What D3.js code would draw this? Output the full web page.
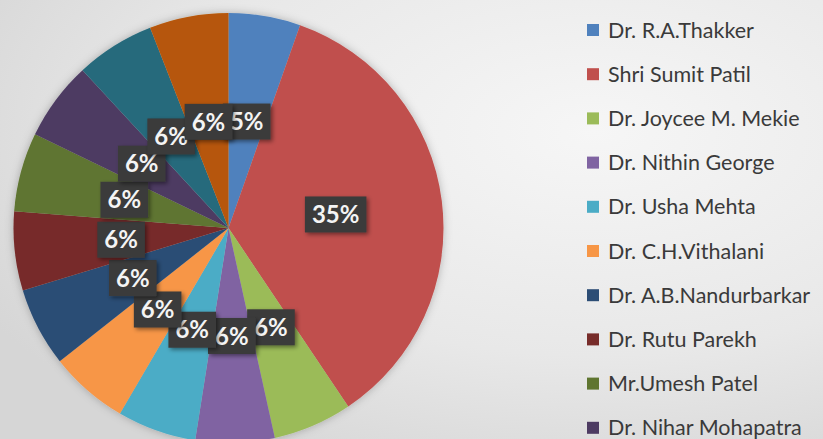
<!DOCTYPE html>
<html>
<head>
<meta charset="utf-8">
<script src="https://cdn.jsdelivr.net/npm/d3@7"></script>
<style>
	body{ margin:0; padding:0; overflow:hidden; }
	svg{ display:block; }
</style>
</head>
<body>
<svg id="chart"></svg>
<script>
// slice names (last two fall below the visible area, names not readable)
let names = ["Dr. R.A.Thakker", "Shri Sumit Patil", "Dr. Joycee M. Mekie", "Dr. Nithin George",
	"Dr. Usha Mehta", "Dr. C.H.Vithalani", "Dr. A.B.Nandurbarkar", "Dr. Rutu Parekh",
	"Mr.Umesh Patel", "Dr. Nihar Mohapatra", "", ""];
// share in percent
let values = [5.4, 35.2, 5.94, 5.94, 5.94, 5.94, 5.94, 5.94, 5.94, 5.94, 5.94, 5.94];
let colors = ["#4F81BD", "#C0504D", "#9BBB59", "#8064A2", "#4BACC6", "#F79646",
	"#2C4D75", "#772C2A", "#5F7530", "#4D3B62", "#276A7C", "#B65708"];

let width = 823, height = 439;
let cx = 228.5, cy = 228, radius = 215;

let svg = d3.select("#chart").attr("width", width).attr("height", height);
let defs = svg.append("defs");

// grey slide background
let bg = defs.append("radialGradient").attr("id", "bg")
	.attr("cx", 0.72).attr("cy", 0.3).attr("r", 0.85);
bg.append("stop").attr("offset", "0%").attr("stop-color", "#f6f6f6");
bg.append("stop").attr("offset", "60%").attr("stop-color", "#e8e8e8");
bg.append("stop").attr("offset", "100%").attr("stop-color", "#d6d6d6");
svg.append("rect").attr("width", width).attr("height", height).attr("fill", "url(#bg)");

let pieShadow = defs.append("filter").attr("id", "pieShadow")
	.attr("x", "-10%").attr("y", "-10%").attr("width", "120%").attr("height", "120%");
pieShadow.append("feDropShadow").attr("dx", 0).attr("dy", 0).attr("stdDeviation", 4)
	.attr("flood-color", "#000").attr("flood-opacity", 0.25);

let boxShadow = defs.append("filter").attr("id", "boxShadow")
	.attr("x", "-30%").attr("y", "-30%").attr("width", "170%").attr("height", "170%");
boxShadow.append("feDropShadow").attr("dx", 2).attr("dy", 2).attr("stdDeviation", 2)
	.attr("flood-color", "#000").attr("flood-opacity", 0.45);

let data = values.map((v, i) => ({name: names[i], value: v, color: colors[i]}));

let pie = d3.pie().sort(null).value(d => d.value);
let arc = d3.arc().innerRadius(0).outerRadius(radius);
let labelArc = d3.arc().innerRadius(108).outerRadius(108);

let arcs = pie(data);

let g = svg.append("g").attr("transform", "translate(" + cx + "," + cy + ")");

g.append("g").attr("filter", "url(#pieShadow)")
	.selectAll("path")
	.data(arcs)
	.join("path")
	.attr("d", arc)
	.attr("fill", d => d.data.color);

// data labels, drawn in order so later boxes sit on top
let labelG = g.selectAll(".lbl")
	.data(arcs)
	.join("g")
	.classed("lbl", true)
	.attr("transform", d => "translate(" + labelArc.centroid(d) + ")");

let rects = labelG.append("rect")
	.attr("fill", "#3a3a3a")
	.attr("filter", "url(#boxShadow)");

labelG.append("text")
	.attr("text-anchor", "middle")
	.attr("dy", "0.36em")
	.attr("font-family", "Lato, 'Open Sans', sans-serif")
	.attr("font-weight", "bold")
	.attr("font-size", 24)
	.attr("fill", "#f4f4f4")
	.text(d => Math.round(d.data.value) + "%");

labelG.each(function(){
	let t = d3.select(this).select("text").node().getBBox();
	d3.select(this).select("rect")
		.attr("x", t.x - 7)
		.attr("y", -18)
		.attr("width", t.width + 14)
		.attr("height", 36);
});

// legend
let legendY = d3.scaleLinear().domain([0, 1]).range([30, 74.2]);
let legend = svg.append("g")
	.selectAll("g")
	.data(data)
	.join("g")
	.attr("transform", (d, i) => "translate(587," + legendY(i) + ")");

legend.append("rect")
	.attr("x", 0)
	.attr("y", -6)
	.attr("width", 12)
	.attr("height", 12)
	.attr("fill", d => d.color);

legend.append("text")
	.attr("x", 21)
	.attr("dy", "0.35em")
	.attr("font-family", "Lato, 'Open Sans', sans-serif")
	.attr("font-size", 21.5)
	.attr("fill", "#3a3a3a")
	.text(d => d.name);
</script>
</body>
</html>
